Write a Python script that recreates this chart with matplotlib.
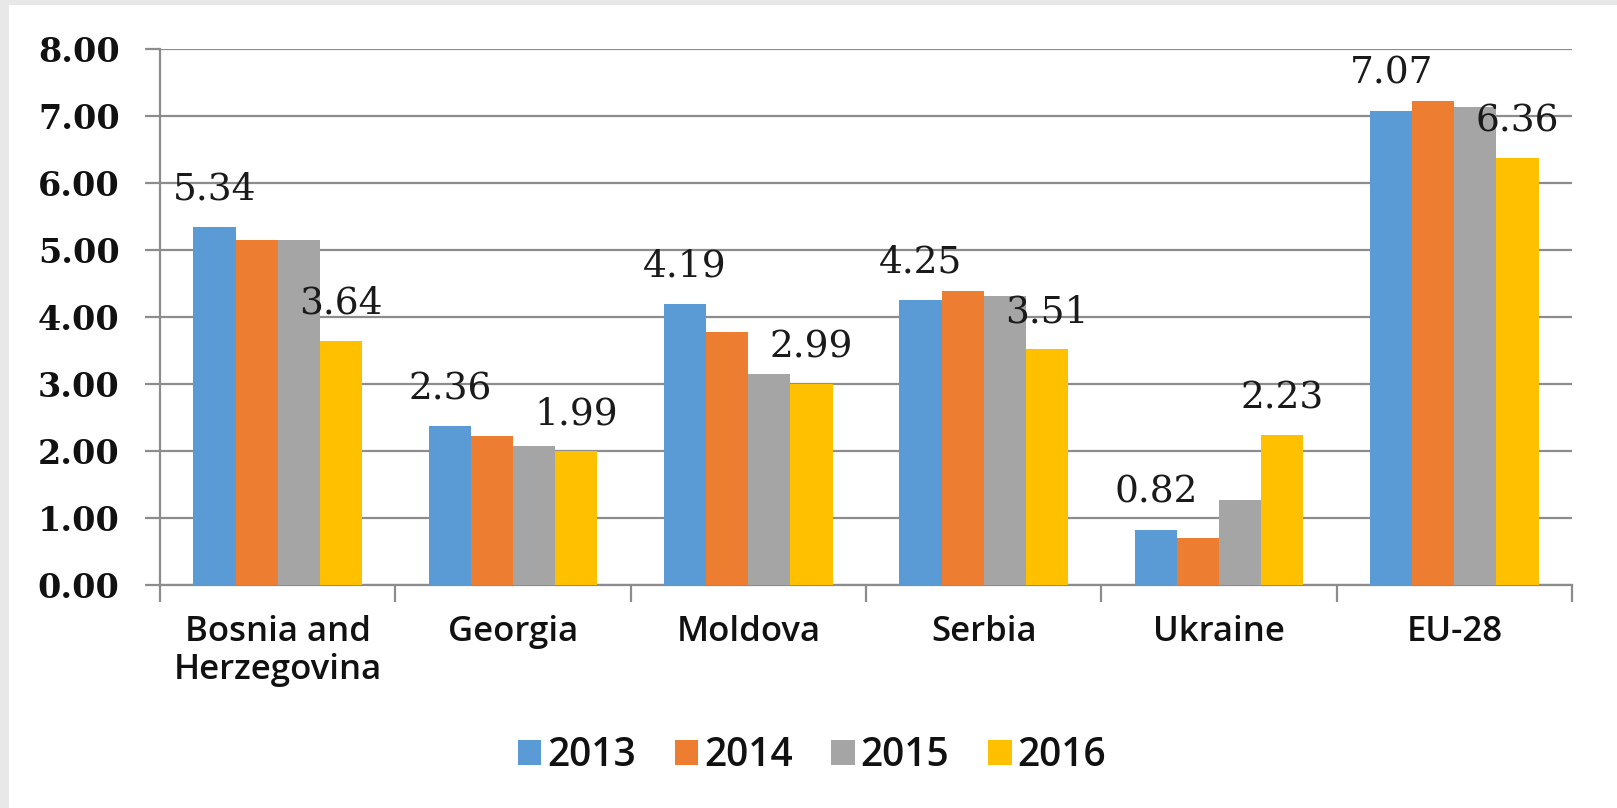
import matplotlib.pyplot as plt
import numpy as np
from matplotlib.patches import Rectangle

# data
countries = ['Bosnia and\nHerzegovina', 'Georgia', 'Moldova', 'Serbia', 'Ukraine', 'EU-28']
years = ['2013', '2014', '2015', '2016']
v2013 = [5.34, 2.36, 4.19, 4.25, 0.82, 7.07]
v2014 = [5.14, 2.22, 3.77, 4.38, 0.69, 7.21]
v2015 = [5.14, 2.07, 3.15, 4.31, 1.26, 7.12]
v2016 = [3.64, 1.99, 2.99, 3.51, 2.23, 6.36]
colors = ['#5B9BD5', '#ED7D31', '#A5A5A5', '#FFC000']
labelled = ['2013', '2016']

series = [v2013, v2014, v2015, v2016]

W, H = 1617, 808
fig = plt.figure(figsize=(W / 100, H / 100), dpi=100)
fig.patch.set_facecolor('#e8e8e8')
# white sheet, grey strip only on the left and top
fig.patches.append(Rectangle((9 / W, 0), 1, 1 - 5 / H,
                             transform=fig.transFigure, facecolor='white',
                             edgecolor='none', zorder=-10))

ax = fig.add_axes([160 / W, 1 - 584.6 / H, (1572 - 160) / W, (584.6 - 48.5) / H])
ax.set_facecolor('white')

x = np.arange(len(countries))
bw = 0.179
for i, (yr, vals, c) in enumerate(zip(years, series, colors)):
    pos = x + (i - 1.5) * bw
    ax.bar(pos, vals, width=bw, color=c, label=yr, zorder=3)
    if yr in labelled:
        for p, v in zip(pos, vals):
            ax.annotate(f'{v:.2f}', (p, v), xytext=(0, 19.5), textcoords='offset points',
                        ha='center', va='baseline', fontsize=27,
                        family='DejaVu Serif', color='#1a1a1a', zorder=5)

ax.set_xlim(-0.5, len(countries) - 0.5)
ax.set_ylim(0, 8)
ax.set_yticks(np.arange(0, 9, 1))
ax.set_yticklabels([f'{t:.2f}' for t in np.arange(0, 9, 1)],
                   family='DejaVu Serif', fontweight='bold', fontsize=24)
ax.yaxis.grid(True, color='#8c8c8c', linewidth=1.6, zorder=0)
ax.tick_params(axis='y', length=11, width=1.6, color='#8c8c8c', pad=18, labelcolor='#111111')

ax.set_xticks(x)
ax.set_xticklabels(countries, family='Open Sans', fontweight='semibold', fontsize=25,
                   color='#111111', linespacing=1.15)
ax.tick_params(axis='x', which='major', length=0, pad=22)
ax.set_xticks(np.arange(-0.5, len(countries), 1), minor=True)
ax.tick_params(axis='x', which='minor', length=12, width=1.6, color='#8c8c8c')

for s in ['top', 'right']:
    ax.spines[s].set_visible(False)
for s in ['left', 'bottom']:
    ax.spines[s].set_color('#8c8c8c')
    ax.spines[s].set_linewidth(1.6)

leg = fig.legend(loc='center', bbox_to_anchor=(812 / W, 1 - 756 / H), ncol=4,
                 frameon=False, prop={'family': 'Open Sans', 'weight': 'semibold', 'size': 28},
                 handlelength=0.6, handleheight=0.6, handletextpad=0.15,
                 columnspacing=1.0)
for t in leg.get_texts():
    t.set_color('#111111')

fig.savefig('out.png', dpi=100, facecolor=fig.get_facecolor())
